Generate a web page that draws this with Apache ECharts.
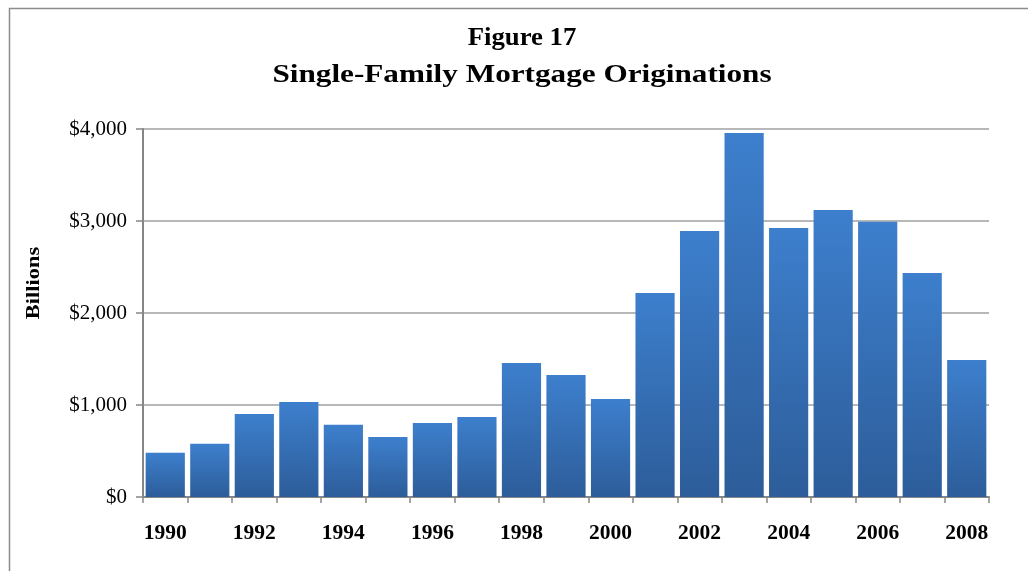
<!DOCTYPE html>
<html>
<head>
<meta charset="utf-8">
<script src="https://cdn.jsdelivr.net/npm/echarts@6/dist/echarts.min.js"></script>
<style>
  html, body { margin: 0; padding: 0; background: #fff; }
  #chart { width: 1028px; height: 571px; }
</style>
</head>
<body>
<div id="chart"></div>
<script>
const years = ['1990', '1991', '1992', '1993', '1994', '1995', '1996', '1997', '1998', '1999',
  '2000', '2001', '2002', '2003', '2004', '2005', '2006', '2007', '2008'];
const originations = [481, 579, 902, 1033, 786, 652, 804, 870, 1457, 1326,
  1065, 2217, 2891, 3957, 2924, 3120, 2992, 2435, 1489];
const figureLabel = 'Figure 17';
const chartTitle = 'Single-Family Mortgage Originations';
const yAxisTitle = 'Billions';

const SERIF = '"Liberation Serif", "Times New Roman", serif';
const AXIS_GRAY = '#868686';

const chart = echarts.init(document.getElementById('chart'));

// the source text is a bit stretched sideways, so the titles get a scaleX
chart.setOption({
  animation: false,
  backgroundColor: '#fff',
  graphic: [
    {
      type: 'rect',
      left: 7,
      top: 6,
      shape: { width: 1100, height: 700 },
      style: { fill: 'none', stroke: '#8c8c8c', lineWidth: 1.5 },
      silent: true
    },
    {
      type: 'text',
      x: 522,
      y: 39,
      scaleX: 1.07,
      style: {
        text: figureLabel,
        font: 'bold 25px ' + SERIF,
        fill: '#000',
        align: 'center',
        verticalAlign: 'middle'
      }
    },
    {
      type: 'text',
      x: 522,
      y: 75,
      scaleX: 1.2,
      style: {
        text: chartTitle,
        font: 'bold 26px ' + SERIF,
        fill: '#000',
        align: 'center',
        verticalAlign: 'middle'
      }
    },
    {
      type: 'text',
      x: 34,
      y: 283,
      rotation: Math.PI / 2,
      scaleX: 1.18,
      style: {
        text: yAxisTitle,
        font: 'bold 19px ' + SERIF,
        fill: '#000',
        align: 'center',
        verticalAlign: 'middle'
      }
    }
  ],
  grid: { left: 143, right: 39, top: 129, bottom: 74 },
  xAxis: {
    type: 'category',
    data: years,
    axisLine: { lineStyle: { color: AXIS_GRAY, width: 2 } },
    axisTick: { show: true, interval: 0, length: 6, lineStyle: { color: AXIS_GRAY, width: 1.5 } },
    axisLabel: {
      interval: 1,
      margin: 25,
      fontFamily: SERIF,
      fontWeight: 'bold',
      fontSize: 21.5,
      color: '#000'
    }
  },
  yAxis: {
    type: 'value',
    min: 0,
    max: 4000,
    interval: 1000,
    axisLine: { show: true, lineStyle: { color: AXIS_GRAY, width: 2 } },
    axisTick: { show: true, length: 7, lineStyle: { color: AXIS_GRAY, width: 1.5 } },
    splitLine: { lineStyle: { color: '#a0a0a0', width: 1.5 } },
    axisLabel: {
      margin: 16,
      fontFamily: SERIF,
      fontSize: 21,
      color: '#000',
      formatter: (v) => '$' + v.toLocaleString('en-US')
    }
  },
  series: [
    {
      type: 'bar',
      data: originations,
      barCategoryGap: '12%',
      itemStyle: {
        color: new echarts.graphic.LinearGradient(0, 0, 0, 1, [
          { offset: 0, color: '#3d7fcd' },
          { offset: 1, color: '#2d5d9a' }
        ])
      }
    }
  ]
});
</script>
</body>
</html>
